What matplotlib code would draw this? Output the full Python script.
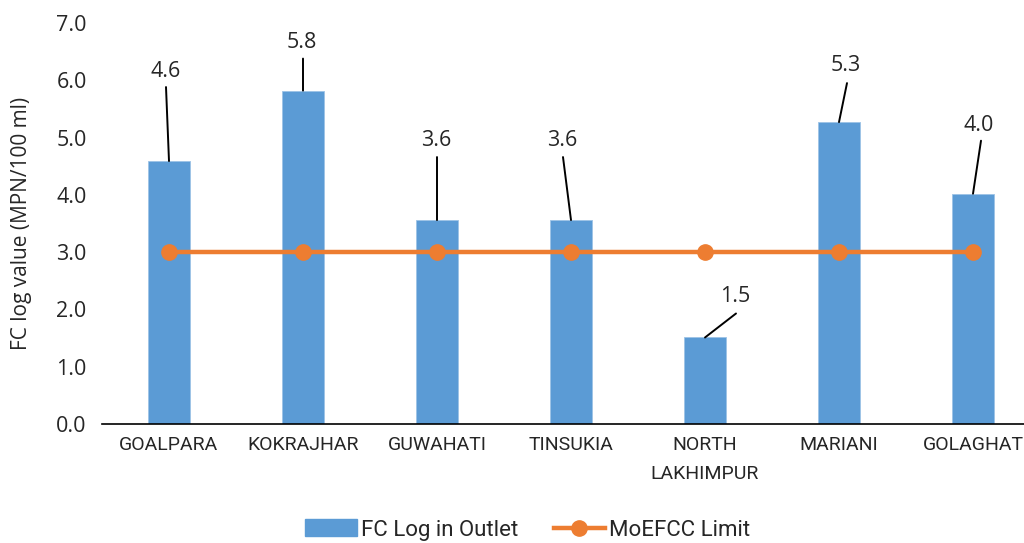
import matplotlib
matplotlib.use("Agg")
import matplotlib.pyplot as plt
from matplotlib.lines import Line2D
from matplotlib.patches import Patch

# Data
sites = ["GOALPARA", "KOKRAJHAR", "GUWAHATI", "TINSUKIA", "NORTH\nLAKHIMPUR", "MARIANI", "GOLAGHAT"]
fc_log_outlet = [4.59, 5.82, 3.56, 3.56, 1.51, 5.27, 4.02]
moefcc_limit = [3.0, 3.0, 3.0, 3.0, 3.0, 3.0, 3.0]
y_ticks = [0.0, 1.0, 2.0, 3.0, 4.0, 5.0, 6.0, 7.0]

# Callout placement (pixel offsets from each bar top): text centre and leader-line end
text_offsets = [(-3, 90), (-1, 48), (-1, 80), (-9, 80), (30, 41), (7, 57), (6, 68)]
line_offsets = [(-3, 74), (0, 32), (0, 63), (-8, 63), (31, 24), (8, 39), (8, 53)]

BLUE = "#5B9BD5"
ORANGE = "#ED7D31"
TEXT = "#262626"
NUM_FONT = ["Open Sans", "DejaVu Sans"]
CAT_FONT = ["Roboto", "Liberation Sans", "DejaVu Sans"]

fig = plt.figure(figsize=(10.24, 5.43), dpi=100)
ax = fig.add_axes([102 / 1024, 1 - 424 / 543, (1040 - 102) / 1024, (424 - 23) / 543])

x = list(range(len(sites)))
ax.bar(x, fc_log_outlet, width=0.31, color=BLUE, edgecolor="#9DC3E6", linewidth=0.6, zorder=2)
ax.plot(x, moefcc_limit, color=ORANGE, lw=3.2, marker="o", markersize=11, zorder=3)

for xi, v, (tdx, tdy), (ldx, ldy) in zip(x, fc_log_outlet, text_offsets, line_offsets):
    ax.annotate("", xy=(xi, v), xytext=(ldx, ldy), textcoords="offset pixels",
                arrowprops=dict(arrowstyle="-", color="black", lw=1.4, shrinkA=0, shrinkB=0),
                annotation_clip=False, zorder=4)
    ax.annotate(f"{v:.1f}", xy=(xi, v), xytext=(tdx, tdy), textcoords="offset pixels",
                ha="center", va="center", fontsize=15.5, color=TEXT, family=NUM_FONT,
                annotation_clip=False, zorder=4)

ax.set_xlim(-0.5, 6.5)
ax.set_ylim(0, 7)
ax.set_yticks(y_ticks)
ax.set_yticklabels([f"{t:.1f}" for t in y_ticks], fontsize=15.5, color=TEXT, family=NUM_FONT)
ax.set_xticks(x)
ax.set_xticklabels(sites, fontsize=14, color=TEXT, family=CAT_FONT, linespacing=1.75)
ax.tick_params(axis="y", length=0, pad=11)
ax.tick_params(axis="x", length=0, pad=9)

for side in ("top", "right", "left"):
    ax.spines[side].set_visible(False)
ax.spines["bottom"].set_color("black")
ax.spines["bottom"].set_linewidth(1.2)

fig.text(0.021, (1 - 424 / 543 + 1 - 23 / 543) / 2, "FC log value (MPN/100 ml)", rotation=90,
         ha="center", va="center", fontsize=15, color=TEXT, family=NUM_FONT)

handles = [
    Patch(facecolor=BLUE, edgecolor=BLUE),
    Line2D([0], [0], color=ORANGE, lw=3.2, marker="o", markersize=11),
]
fig.legend(handles, ["FC Log in Outlet", "MoEFCC Limit"], loc="center",
           bbox_to_anchor=(528 / 1024, 1 - 530 / 543), ncol=2, frameon=False,
           prop={"family": CAT_FONT, "size": 16}, handlelength=2.3, handleheight=0.8,
           columnspacing=1.6, handletextpad=0.2, labelcolor=TEXT)

fig.savefig("out.png", dpi=100)
